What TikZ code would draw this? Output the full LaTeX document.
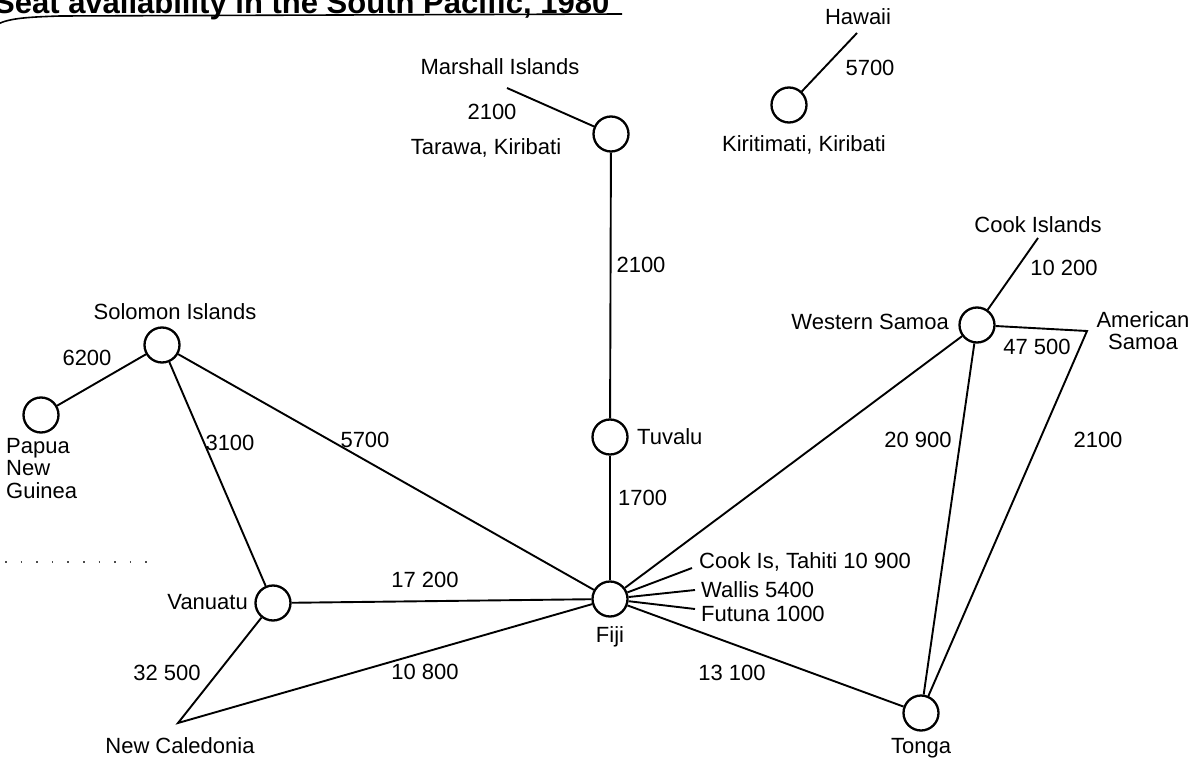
\documentclass[tikz,border=0pt]{standalone}
\usepackage{fontspec}
\setmainfont{Liberation Sans}
\begin{document}
\begin{tikzpicture}[x=1pt,y=-1pt,
  isle/.style={circle,draw,line width=2.3pt,minimum size=35pt,inner sep=0pt,fill=white},
  lbl/.style={font=\fontsize{22}{25}\selectfont,inner sep=1pt},
  link/.style={line width=1.9pt}]
\useasboundingbox (0,0) rectangle (1196,767);
\clip (0,0) rectangle (1196,767);
% title
\node[anchor=base west,inner sep=0pt,font=\fontsize{31}{34}\bfseries] (title) at (-6,14) {Seat availability in the South Pacific, 1980};
\draw[line width=1.6pt] (-2,24) .. controls (10,18) and (30,17) .. (60,16) -- (622,14);
% islands
\node[isle] (tarawa) at (611,134) {};
\node[isle] (kiri) at (789,105) {};
\node[isle] (tuvalu) at (610,437) {};
\node[isle] (fiji) at (610,599) {};
\node[isle] (solomon) at (162,345) {};
\node[isle] (png) at (41,415) {};
\node[isle] (vanuatu) at (273,603) {};
\node[isle] (wsamoa) at (977,325) {};
\node[isle] (tonga) at (921,713) {};
\coordinate (newcal) at (178,723);
\coordinate (marshall) at (507,88);
\coordinate (hawaii) at (857,33);
\coordinate (cook) at (1038,238);
\coordinate (asamoa) at (1087,331);
\coordinate (tahiti) at (692,568);
\coordinate (wallis) at (695,590);
\coordinate (futuna) at (695,609);
% connectors
\draw[link] (tarawa) -- (marshall);
\draw[link] (kiri) -- (hawaii);
\draw[link] (tarawa) -- (tuvalu);
\draw[link] (tuvalu) -- (fiji);
\draw[link] (solomon) -- (png);
\draw[link] (solomon) -- (vanuatu);
\draw[link] (solomon) -- (fiji);
\draw[link] (vanuatu) -- (fiji);
\draw[link] (vanuatu) -- (newcal) -- (fiji);
\draw[link] (fiji) -- (wsamoa);
\draw[link] (fiji) -- (tonga);
\draw[link] (fiji) -- (tahiti);
\draw[link] (fiji) -- (wallis);
\draw[link] (fiji) -- (futuna);
\draw[link] (wsamoa) -- (cook);
\draw[link] (wsamoa) -- (tonga);
\draw[link] (wsamoa) -- (asamoa) -- (tonga);
% dotted row
\draw[line width=1.6pt,dash pattern=on 1.6pt off 14pt,black!70] (5,562) -- (155,562);
% labels
\node[lbl] (lmarshall) at (500,67) {Marshall Islands};
\node[lbl] (l2100a) at (492,112) {2100};
\node[lbl] (ltarawa) at (486,148) {Tarawa, Kiribati};
\node[lbl] (lhawaii) at (858,17) {Hawaii};
\node[lbl] (l5700a) at (870,68) {5700};
\node[lbl] (lkiri) at (804,145) {Kiritimati, Kiribati};
\node[lbl] (l2100b) at (641,265) {2100};
\node[lbl,anchor=west] (ltuvalu) at (636,437) {Tuvalu};
\node[lbl,anchor=west] (l1700) at (617,498) {1700};
\node[lbl] (lcook) at (1038,225) {Cook Islands};
\node[lbl] (l10200) at (1064,268) {10 200};
\node[lbl,anchor=east] (lws) at (950,322) {Western Samoa};
\node[lbl,align=center,font=\fontsize{22}{22}\selectfont] (las) at (1143,331) {American\\Samoa};
\node[lbl] (l47500) at (1037,347) {47 500};
\node[lbl] (l20900) at (918,440) {20 900};
\node[lbl] (l2100c) at (1098,440) {2100};
\node[lbl] (lsolomon) at (175,312) {Solomon Islands};
\node[lbl] (l6200) at (87,358) {6200};
\node[lbl,anchor=north west,align=left,font=\fontsize{22}{22.5}\selectfont] (lpng) at (5,437) {Papua\\New\\Guinea};
\node[lbl] (l3100) at (230,443) {3100};
\node[lbl] (l5700b) at (365,440) {5700};
\node[lbl,anchor=east] (lvanuatu) at (249,602) {Vanuatu};
\node[lbl] (l17200) at (425,580) {17 200};
\node[lbl] (l32500) at (167,673) {32 500};
\node[lbl] (l10800) at (425,672) {10 800};
\node[lbl] (lnewcal) at (180,746) {New Caledonia};
\node[lbl] (lfiji) at (610,637) {Fiji};
\node[lbl] (l13100) at (732,673) {13 100};
\node[lbl] (ltonga) at (921,748) {Tonga};
\node[lbl,anchor=west] (ltahiti) at (698,562) {Cook Is, Tahiti 10 900};
\node[lbl,anchor=west] (lwallis) at (700,590) {Wallis 5400};
\node[lbl,anchor=west] (lfutuna) at (700,614) {Futuna 1000};
\end{tikzpicture}
\end{document}
